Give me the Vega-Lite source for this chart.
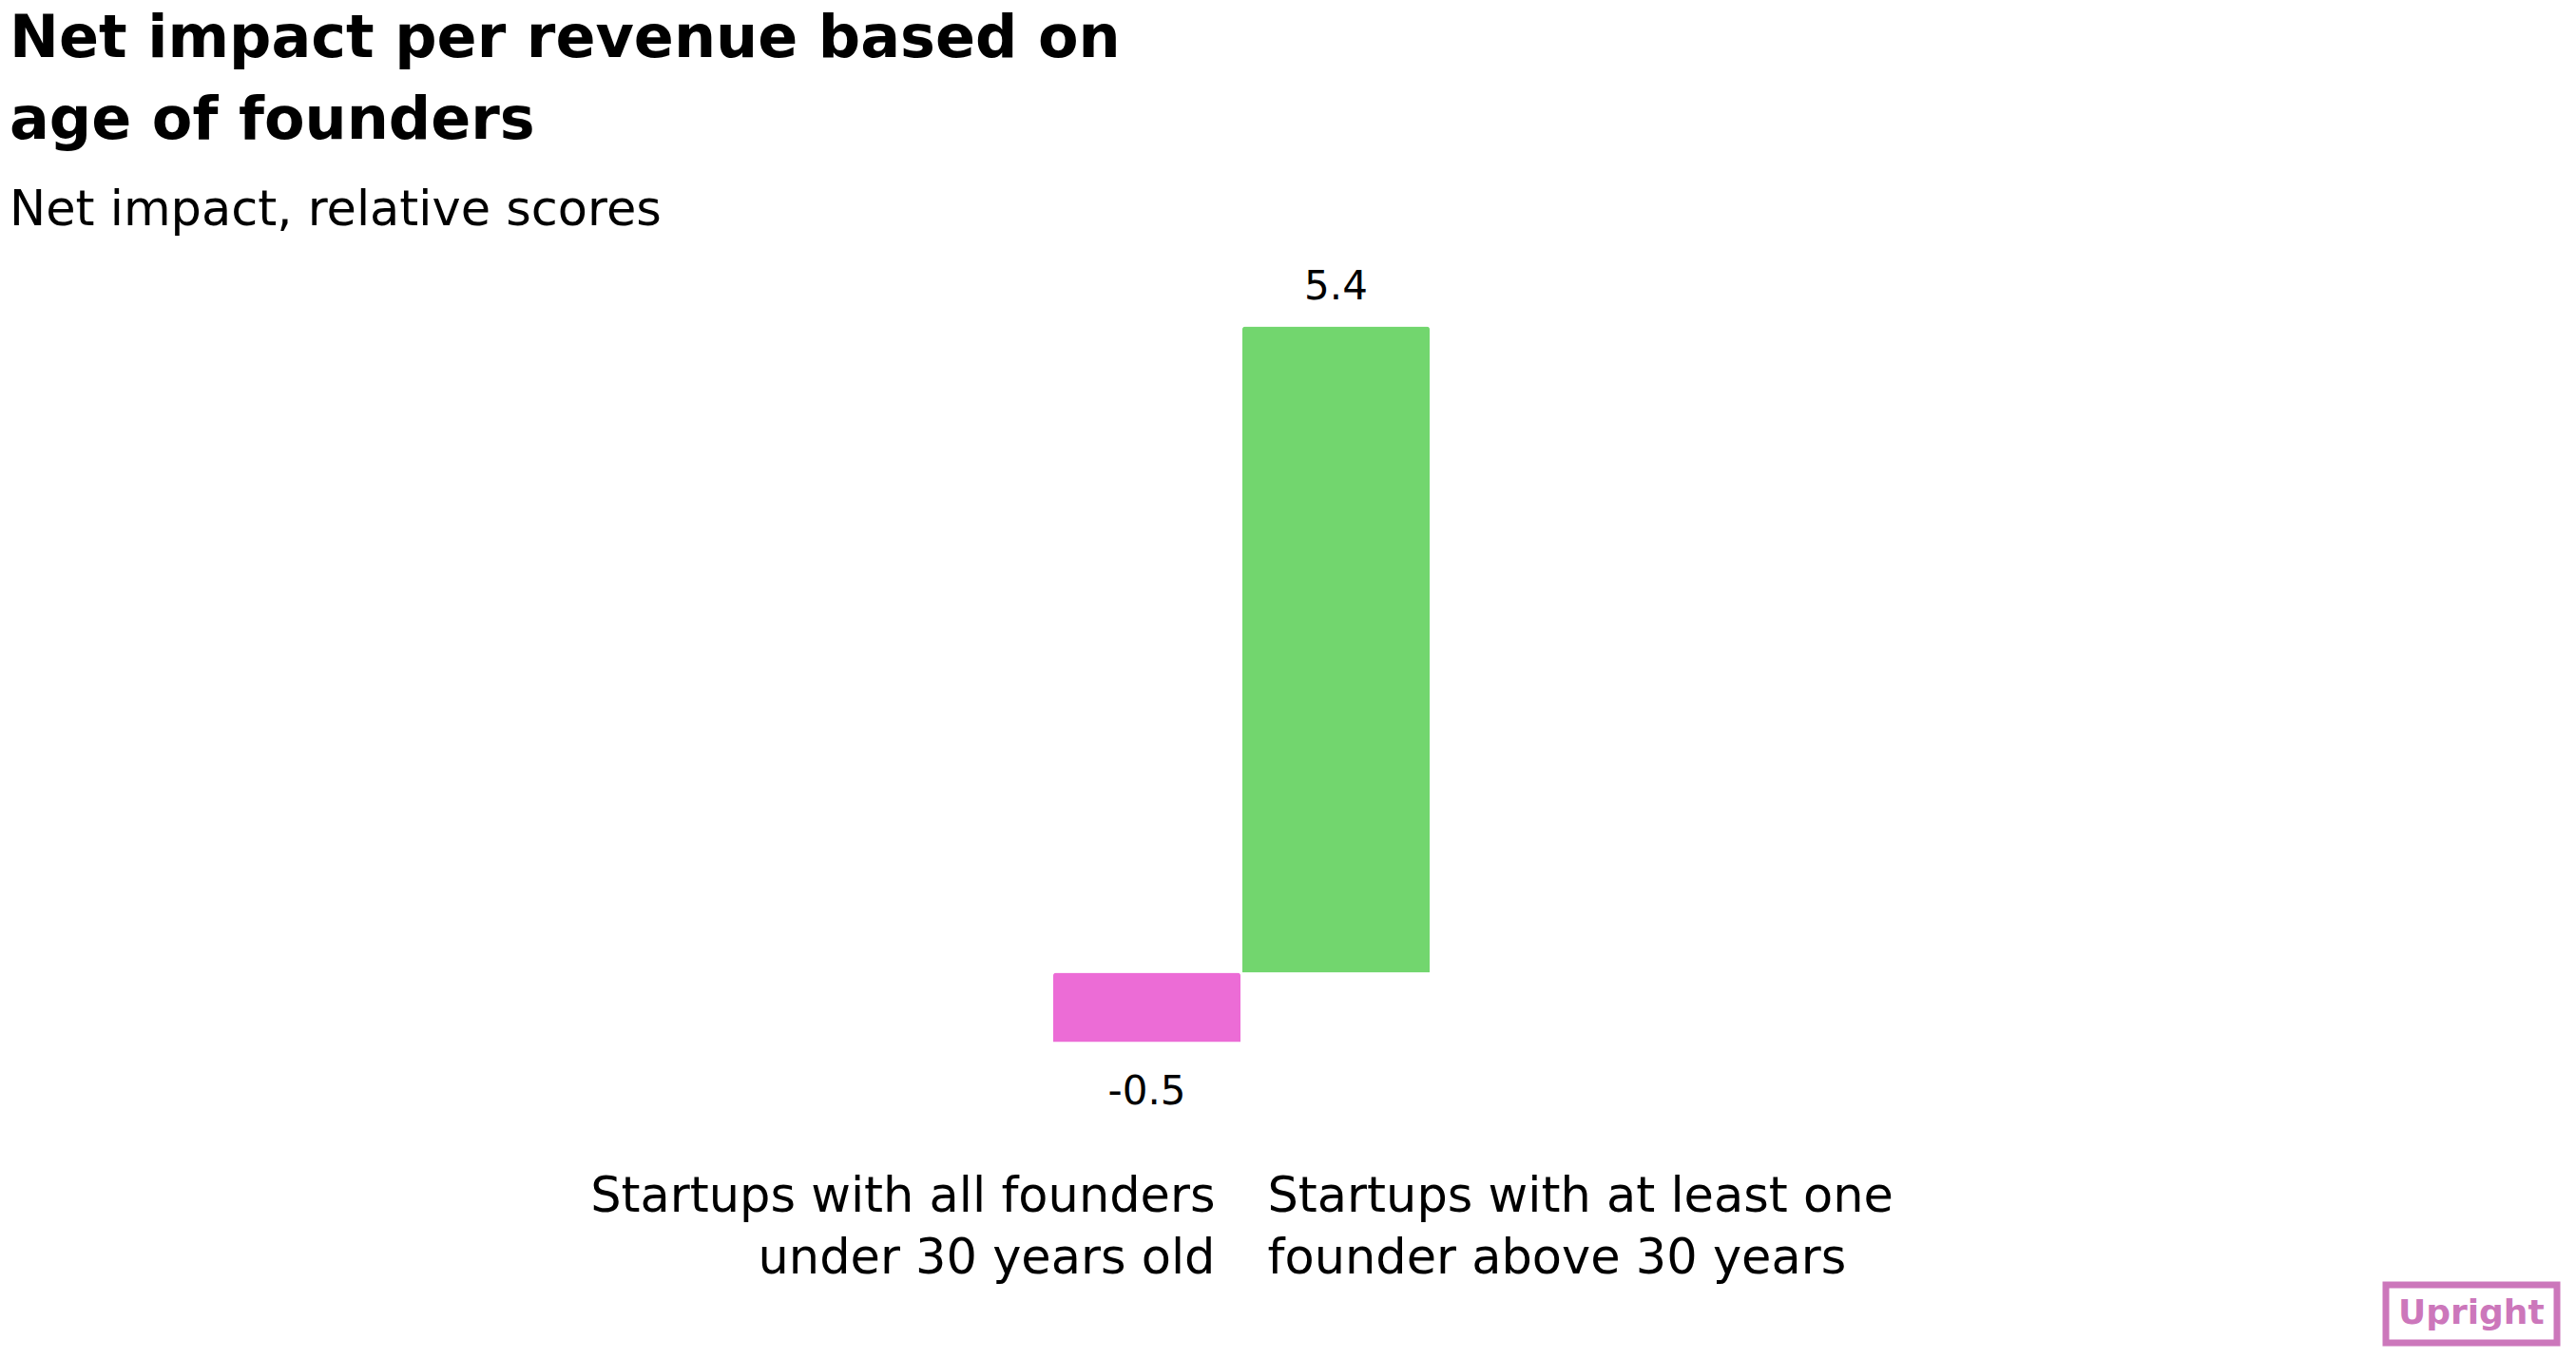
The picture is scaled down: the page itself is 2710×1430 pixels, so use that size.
{
  "$schema": "https://vega.github.io/schema/vega-lite/v6.json",
  "autosize": {"type": "none"},
  "width": 2700,
  "height": 957,
  "padding": {"left": 10, "top": 268, "right": 0, "bottom": 205},
  "background": "white",
  "title": {
    "text": ["Net impact per revenue based on", "age of founders"],
    "subtitle": "Net impact, relative scores",
    "anchor": "start",
    "frame": "group",
    "offset": 20,
    "font": "DejaVu Sans",
    "fontSize": 62,
    "fontWeight": "bold",
    "color": "#000000",
    "lineHeight": 86,
    "subtitleFont": "DejaVu Sans",
    "subtitleFontSize": 51,
    "subtitleFontWeight": "normal",
    "subtitleColor": "#000000",
    "subtitlePadding": 38
  },
  "data": {
    "values": [
      {"group": "Startups with all founders\nunder 30 years old", "value": -0.58, "label": "-0.5"},
      {"group": "Startups with at least one\nfounder above 30 years", "value": 5.4, "label": "5.4"}
    ]
  },
  "encoding": {
    "x": {
      "field": "group",
      "type": "nominal",
      "sort": null,
      "scale": {"type": "band", "range": [1098, 1494], "paddingInner": 0.01, "paddingOuter": 0},
      "axis": {
        "title": null,
        "domain": false,
        "ticks": false,
        "tickSize": 0,
        "grid": false,
        "labelPadding": 9,
        "labelAngle": 0,
        "labelFont": "DejaVu Sans",
        "labelFontSize": 51,
        "labelColor": "#000000",
        "labelLineHeight": 65,
        "labelLimit": 0,
        "labelBound": false,
        "labelOverlap": false,
        "labelBaseline": "top",
        "labelExpr": "split(datum.label, '\\n')",
        "labelAlign": {"condition": {"test": "datum.index < 0.5", "value": "right"}, "value": "left"},
        "labelOffset": {"condition": {"test": "datum.index < 0.5", "value": 72}, "value": -72}
      }
    },
    "y": {
      "field": "value",
      "type": "quantitative",
      "scale": {"domain": [-1.6, 6], "nice": false, "zero": false},
      "axis": null
    }
  },
  "layer": [
    {
      "mark": {"type": "bar", "cornerRadiusEnd": 3},
      "encoding": {
        "color": {
          "field": "group",
          "type": "nominal",
          "scale": {
            "domain": ["Startups with all founders\nunder 30 years old", "Startups with at least one\nfounder above 30 years"],
            "range": ["#EC6CD6", "#72D66E"]
          },
          "legend": {
            "orient": "none",
            "legendX": 2500,
            "legendY": 1084,
            "title": "Upright",
            "titleColor": "#CC77BB",
            "titleFont": "DejaVu Sans",
            "titleFontSize": 36,
            "titleFontWeight": "bold",
            "strokeColor": "#CC77BB",
            "padding": 13,
            "values": []
          }
        }
      }
    },
    {
      "transform": [{"filter": "datum.value > 0"}],
      "mark": {"type": "text", "dy": -29, "baseline": "alphabetic", "align": "center", "font": "DejaVu Sans", "fontSize": 42, "color": "#000000"},
      "encoding": {"text": {"field": "label"}}
    },
    {
      "transform": [{"filter": "datum.value < 0"}],
      "mark": {"type": "text", "dy": 65, "baseline": "alphabetic", "align": "center", "font": "DejaVu Sans", "fontSize": 42, "color": "#000000"},
      "encoding": {"text": {"field": "label"}}
    }
  ],
  "config": {
    "view": {"stroke": null},
    "legend": {"strokeWidth": 7}
  }
}
